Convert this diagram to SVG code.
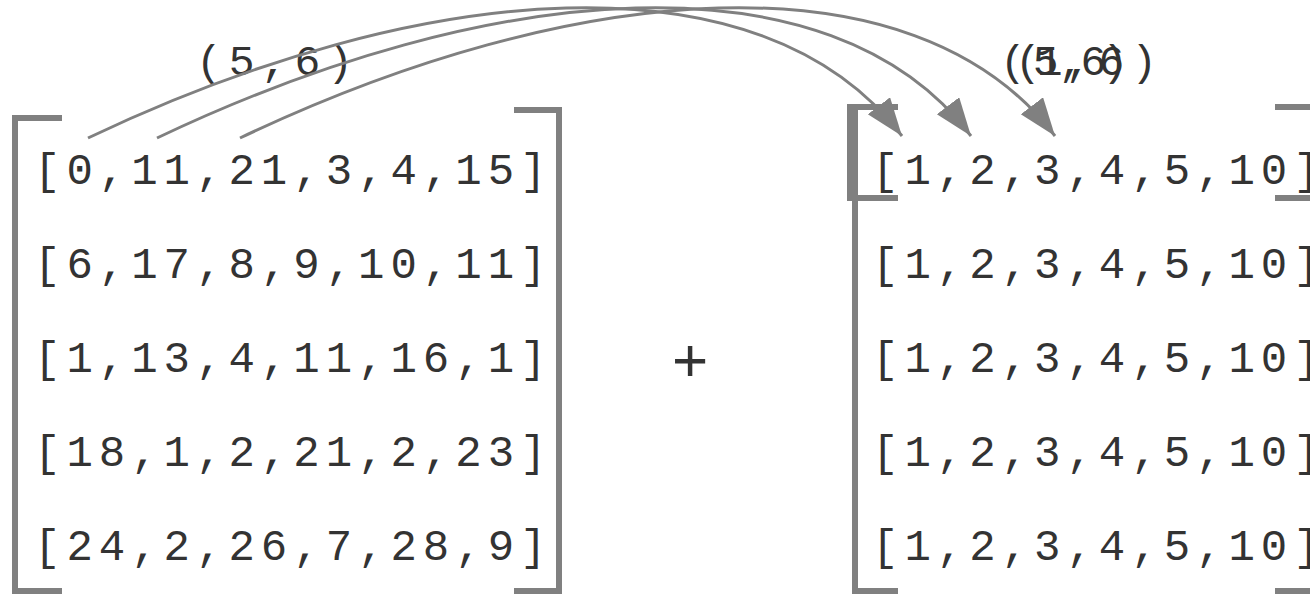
<svg xmlns="http://www.w3.org/2000/svg" width="1310" height="594" viewBox="0 0 1310 594">
<defs>
<style>
.t{font-family:"Liberation Mono",monospace;font-size:44px;fill:#333;letter-spacing:6px}
.lb{font-family:"Liberation Mono",monospace;font-size:43px;fill:#333;letter-spacing:7px}
.br{fill:none;stroke:#808080;stroke-width:6}
.c{fill:none;stroke:#808080;stroke-width:3}
</style>
<marker id="ah" markerUnits="userSpaceOnUse" markerWidth="40" markerHeight="30" refX="38" refY="14" orient="auto">
<path d="M0,0 L38,14 L0,28 z" fill="#808080"/>
</marker>
</defs>
<g id="matrixA">
<path class="br" d="M62,118 H15 V591 H62"/>
<path class="br" d="M514,110 H559 V591 H514"/>
<text class="t" x="34" y="184">[0,11,21,3,4,15]</text>
<text class="t" x="34" y="278">[6,17,8,9,10,11]</text>
<text class="t" x="34" y="372">[1,13,4,11,16,1]</text>
<text class="t" x="34" y="466">[18,1,2,21,2,23]</text>
<text class="t" x="34" y="560">[24,2,26,7,28,9]</text>
</g>
<g id="plus">
<text x="690" y="381" text-anchor="middle" style="font-family:'Liberation Sans',sans-serif;font-size:62px;fill:#333">+</text>
</g>
<g id="matrixB">
<path class="br" d="M898,107 H850 V198 H898"/>
<path class="br" d="M898,107 H855 V591 H898"/>
<path class="br" d="M1275,107 H1320"/>
<path class="br" d="M1275,198 H1320"/>
<path class="br" d="M1275,591 H1320"/>
<text class="t" x="872" y="184">[1,2,3,4,5,10]</text>
<text class="t" x="872" y="278">[1,2,3,4,5,10]</text>
<text class="t" x="872" y="372">[1,2,3,4,5,10]</text>
<text class="t" x="872" y="466">[1,2,3,4,5,10]</text>
<text class="t" x="872" y="560">[1,2,3,4,5,10]</text>
</g>
<g id="labels">
<text class="lb" x="196" y="75">(5,6)</text>
<text class="lb" x="1000" y="75">(5,6)</text>
<text class="lb" x="1015" y="75" style="letter-spacing:-4px">(1,6)</text>
</g>
<g id="connectors">
<path class="c" marker-end="url(#ah)" d="M88,138 C420,-20 760,-50 902,136"/>
<path class="c" marker-end="url(#ah)" d="M157,138 C489,-20 830,-50 971,136"/>
<path class="c" marker-end="url(#ah)" d="M240,138 C572,-20 913,-50 1055,136"/>
</g>
</svg>
